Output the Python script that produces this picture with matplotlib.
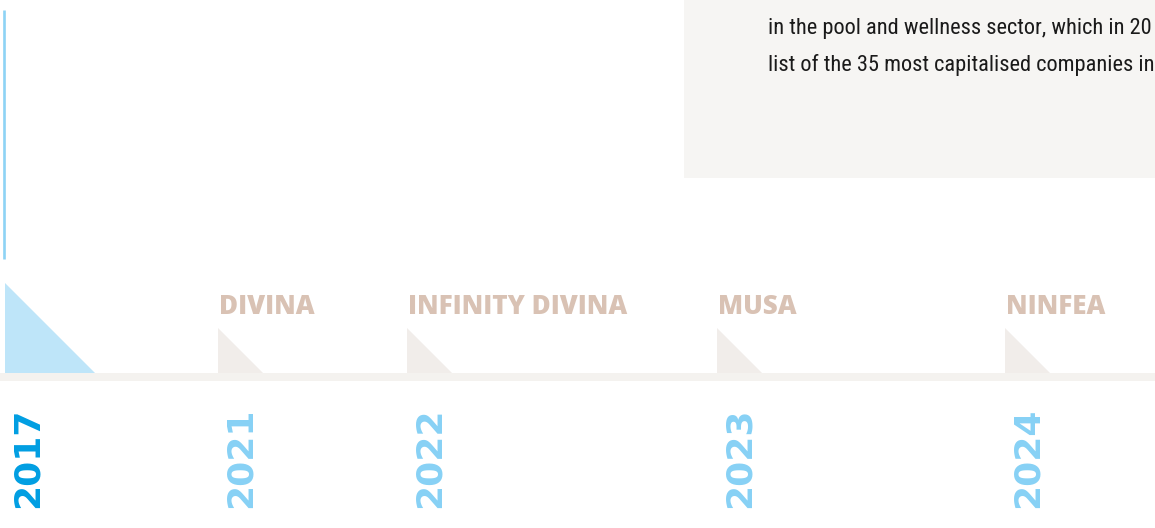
import matplotlib
matplotlib.use("Agg")
import matplotlib.pyplot as plt
from matplotlib.patches import Polygon, Rectangle
from matplotlib import font_manager

# ---- data ----
years = ["2017", "2021", "2022", "2023", "2024"]
models = ["", "DIVINA", "INFINITY DIVINA", "MUSA", "NINFEA"]
text_lines = [
    "in the pool and wellness sector, which in 20",
    "list of the 35 most capitalised companies in",
]

# ---- layout / style ----
W, H = 1155, 528
marker_x = [5, 218, 407, 717, 1005]
active = 0

avail = {f.name for f in font_manager.fontManager.ttflist}
def pick(cands):
    for c in cands:
        if c in avail:
            return c
    return "DejaVu Sans"

body_font = pick(["Liberation Sans Narrow", "Roboto Condensed", "Open Sans Condensed", "Liberation Sans"])
label_font = pick(["Open Sans", "Noto Sans", "DejaVu Sans"])
year_font = "DejaVu Sans"

fig = plt.figure(figsize=(W / 100, H / 100), dpi=100)
ax = fig.add_axes([0, 0, 1, 1])
ax.set_xlim(0, W)
ax.set_ylim(H, 0)
ax.axis("off")

# text box
ax.add_patch(Rectangle((684, 0), W - 684, 178, facecolor="#f6f5f3", edgecolor="none", zorder=1))
renderer = fig.canvas.get_renderer()
body_texts = []
for i, line in enumerate(text_lines):
    t = ax.text(768, 34 + 37 * i, line, fontsize=18, family=body_font, color="#1a1a1a",
                ha="left", va="baseline", zorder=2)
    body_texts.append(t)
# fit the first line to end at the right edge
w0 = body_texts[0].get_window_extent(renderer).width
fs = 18 * (W - 3 - 768) / w0
for t in body_texts:
    t.set_fontsize(fs)

# vertical accent line
ax.plot([4, 4], [10, 259], color="#8dd3f5", linewidth=1.9, solid_capstyle="butt", zorder=2)

# horizontal band
ax.add_patch(Rectangle((0, 373), W, 8, facecolor="#f4f2ef", edgecolor="none", zorder=1))

for i, (x, yr, m) in enumerate(zip(marker_x, years, models)):
    if i == active:
        tri = Polygon([(x, 283), (x, 373), (x + 90, 373)], closed=True,
                      facecolor="#bee5f9", edgecolor="none", zorder=2)
        ycol = "#009ee2"
    else:
        tri = Polygon([(x, 328), (x, 373), (x + 45, 373)], closed=True,
                      facecolor="#f1edea", edgecolor="none", zorder=2)
        ycol = "#87d1f5"
    ax.add_patch(tri)
    if m:
        ax.text(x + 1, 314, m, fontsize=18.7, family=label_font, fontweight=800,
                color="#d9c2b4", ha="left", va="baseline", zorder=3)
    ax.text(x + 6, 408, yr, fontsize=26, family=year_font, fontweight="bold", color=ycol,
            rotation=90, rotation_mode="anchor", ha="right", va="top", zorder=3)

fig.savefig("out.png", dpi=100, facecolor="white")
